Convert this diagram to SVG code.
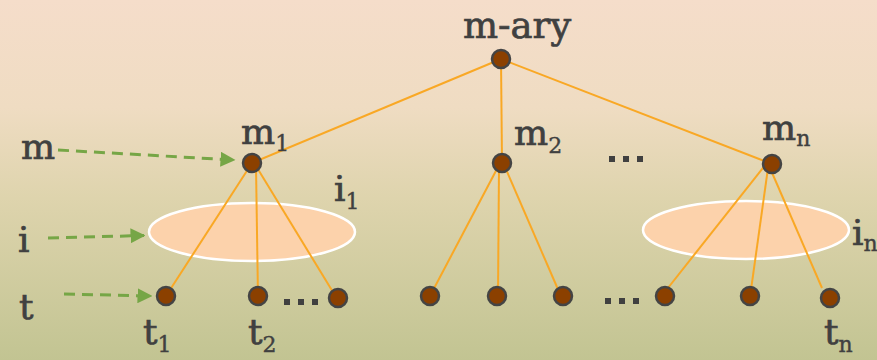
<svg xmlns="http://www.w3.org/2000/svg" width="877" height="360" viewBox="0 0 877 360">
<defs>
<linearGradient id="bg" x1="0" y1="0" x2="0" y2="1">
<stop offset="0" stop-color="#f5ddca"/>
<stop offset="0.3" stop-color="#efdcc2"/>
<stop offset="0.55" stop-color="#ded4ad"/>
<stop offset="1" stop-color="#c2c492"/>
</linearGradient>
<marker id="ga" viewBox="0 0 10 10" refX="9" refY="5" markerWidth="5" markerHeight="5" orient="auto" markerUnits="strokeWidth">
<path d="M0,0 L10,5 L0,10 Z" fill="#76a646"/>
</marker>
<style>
.t{font-family:"DejaVu Serif","Liberation Serif",serif;fill:#404040;stroke:#404040;stroke-width:0.7}
.big{font-size:37px}
.lab{font-size:36px}
.sub{font-size:22px;stroke-width:0.4}
.n{fill:#8b4000;stroke:#444;stroke-width:2.5}
.e{stroke:#f9a825;stroke-width:2;fill:none}
.g{stroke:#76a646;stroke-width:3;stroke-dasharray:11 7;fill:none}
.ell{fill:#fcd2ab;stroke:#fff;stroke-width:2.5}
.dots{fill:#404040}
</style>
</defs>
<rect width="877" height="360" fill="url(#bg)"/>
<g id="ellipses">
<ellipse class="ell" cx="252" cy="232" rx="103" ry="29"/>
<ellipse class="ell" cx="746" cy="230" rx="103" ry="29"/>
</g>
<g id="connectors">
<line class="e" x1="501" y1="59" x2="252" y2="163"/>
<line class="e" x1="501" y1="59" x2="502" y2="163"/>
<line class="e" x1="501" y1="59" x2="772" y2="164"/>
<line class="e" x1="252" y1="163" x2="166" y2="296"/>
<line class="e" x1="256" y1="166" x2="258" y2="298"/>
<line class="e" x1="256" y1="166" x2="336" y2="297"/>
<line class="e" x1="498" y1="167" x2="430" y2="296"/>
<line class="e" x1="499" y1="166" x2="498" y2="296"/>
<line class="e" x1="505" y1="167" x2="560" y2="294"/>
<line class="e" x1="766" y1="164" x2="664" y2="293"/>
<line class="e" x1="768" y1="168" x2="750" y2="297"/>
<line class="e" x1="770" y1="168" x2="822" y2="288"/>
<line class="g" x1="58" y1="150" x2="234" y2="160" marker-end="url(#ga)"/>
<line class="g" x1="48" y1="238" x2="144" y2="235.5" marker-end="url(#ga)"/>
<line class="g" x1="64" y1="294" x2="151" y2="296" marker-end="url(#ga)"/>
</g>
<g id="root"><circle class="n" cx="501" cy="59" r="9"/><text class="t big" x="517" y="38" text-anchor="middle">m-ary</text></g>
<g id="m1"><circle class="n" cx="252" cy="163" r="9"/><text class="t lab" x="241" y="144">m<tspan class="sub" dy="7">1</tspan></text></g>
<g id="m2"><circle class="n" cx="502" cy="163" r="9"/><text class="t lab" x="514" y="145">m<tspan class="sub" dy="8">2</tspan></text></g>
<g id="mn"><circle class="n" cx="772" cy="164" r="9"/><text class="t lab" x="762" y="140">m<tspan class="sub" dy="6">n</tspan></text></g>
<g id="mdots"><rect class="dots" x="609" y="156" width="6" height="6"/><rect class="dots" x="623" y="156" width="6" height="6"/><rect class="dots" x="637" y="156" width="6" height="6"/></g>
<g id="i1"><text class="t lab" x="334" y="201">i<tspan class="sub" dy="8">1</tspan></text></g>
<g id="in"><text class="t lab" x="852" y="245">i<tspan class="sub" dy="6">n</tspan></text></g>
<g id="t1"><circle class="n" cx="166" cy="296" r="9"/><text class="t lab" x="143" y="344">t<tspan class="sub" dy="8">1</tspan></text></g>
<g id="t2"><circle class="n" cx="258" cy="296" r="9"/><text class="t lab" x="248" y="344">t<tspan class="sub" dy="8">2</tspan></text></g>
<g id="t3"><circle class="n" cx="338" cy="298" r="9"/></g>
<g id="ldots1"><rect class="dots" x="284" y="299" width="6" height="6"/><rect class="dots" x="298" y="299" width="6" height="6"/><rect class="dots" x="312" y="299" width="6" height="6"/></g>
<g id="t4"><circle class="n" cx="430" cy="296" r="9"/></g>
<g id="t5"><circle class="n" cx="497" cy="296" r="9"/></g>
<g id="t6"><circle class="n" cx="563" cy="296" r="9"/></g>
<g id="ldots2"><rect class="dots" x="605" y="298" width="6" height="6"/><rect class="dots" x="619" y="298" width="6" height="6"/><rect class="dots" x="633" y="298" width="6" height="6"/></g>
<g id="t7"><circle class="n" cx="665" cy="296" r="9"/></g>
<g id="t8"><circle class="n" cx="750" cy="296" r="9"/></g>
<g id="tn"><circle class="n" cx="830" cy="298" r="9"/><text class="t lab" x="824" y="344">t<tspan class="sub" dy="8">n</tspan></text></g>
<g id="legend">
<text class="t lab" x="21" y="159">m</text>
<text class="t lab" x="18" y="252">i</text>
<text class="t lab" x="19" y="319">t</text>
</g>
</svg>
